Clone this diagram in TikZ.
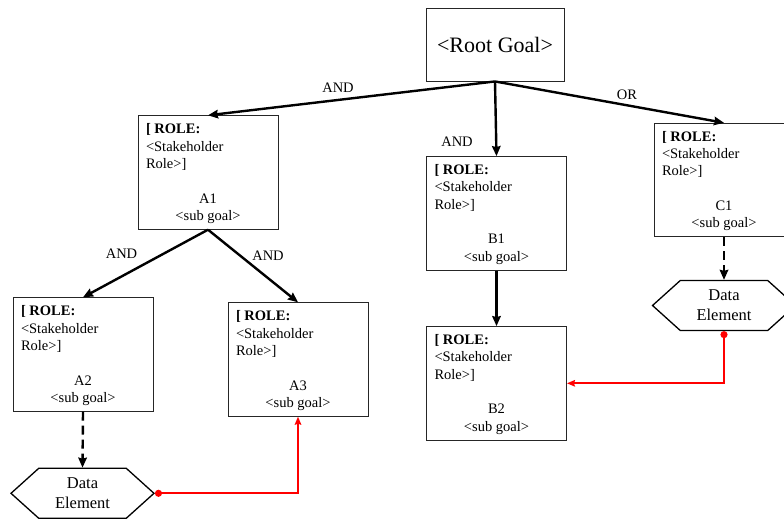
\documentclass[tikz,border=0pt]{standalone}
\usepackage{fontspec}
\setmainfont{Liberation Serif}
\usetikzlibrary{shapes.symbols, arrows.meta}
\tikzstyle{goal} = [rectangle, draw=black!85, line width=0.9pt, minimum width=140pt, minimum height=113.5pt, inner sep=0pt]
\tikzstyle{root} = [rectangle, draw=black!85, line width=0.9pt, minimum width=138pt, minimum height=73pt, font=\fontsize{22}{26}\selectfont]
\tikzstyle{data} = [signal, signal to=west and east, signal pointer angle=84, draw=black, line width=1.3pt, minimum width=143pt, minimum height=50pt, inner sep=0pt, align=center, font=\fontsize{16.5}{20}\selectfont]
\tikzstyle{andor} = [line width=2.4pt, -{Stealth[length=10pt,width=8.5pt,inset=1pt]}]
\tikzstyle{datalink} = [andor, dash pattern=on 9pt off 5pt]
\tikzstyle{dataflow} = [red, line width=1.8pt, {Circle[length=7pt]}-{Stealth[length=8pt,width=6.5pt,inset=1pt]}]
\tikzstyle{lbl} = [font=\fontsize{14.5}{17}\selectfont]

\newcommand{\goaltext}[1]{\begin{minipage}[c][113.5pt][t]{124pt}\fontsize{14.5}{17.3}\selectfont\vspace*{8pt}\raggedright\textbf{[ ROLE:}\\ <Stakeholder\\ Role>]\par\vspace*{17.3pt}\centering #1\\ <sub goal>\par\end{minipage}}

\begin{document}
\begin{tikzpicture}[x=1pt,y=-1pt]
    \clip (0,0) rectangle (784,519);

    % goals
    \node[root] (root) at (495,44.5) {<Root Goal>};
    \node[goal] (a1) at (208,172.5) {\goaltext{A1}};
    \node[goal] (b1) at (496.5,213.3) {\goaltext{B1}};
    \node[goal] (c1) at (724,180) {\goaltext{C1}};
    \node[goal] (a2) at (83,354.5) {\goaltext{A2}};
    \node[goal] (a3) at (298,359.5) {\goaltext{A3}};
    \node[goal] (b2) at (496.5,383.3) {\goaltext{B2}};

    % data elements
    \node[data] (datal) at (82.5,493.3) {Data\\Element};
    \node[data] (datar) at (724,305.5) {Data\\Element};

    % decomposition
    \draw[andor] (root.south) -- (a1.north);
    \draw[andor] (root.south) -- (b1.north);
    \draw[andor] (root.south) -- (c1.north);
    \draw[andor] (a1.south) -- (a2.north);
    \draw[andor] (a1.south) -- (a3.north);
    \draw[andor] (b1.south) -- (b2.north);

    \node[lbl] (androot) at (338,88) {AND};
    \node[lbl] (andb) at (457,141.5) {AND};
    \node[lbl] (orroot) at (627,95) {OR};
    \node[lbl] (anda2) at (121.5,253.5) {AND};
    \node[lbl] (anda3) at (268,255.5) {AND};

    % data links
    \draw[datalink] (a2.south) -- (datal.north);
    \draw[datalink] (c1.south) -- (datar.north);
    \draw[dataflow] (datal.east) -| (a3.south);
    \draw[dataflow] (datar.south) |- (b2.east);
\end{tikzpicture}
\end{document}
